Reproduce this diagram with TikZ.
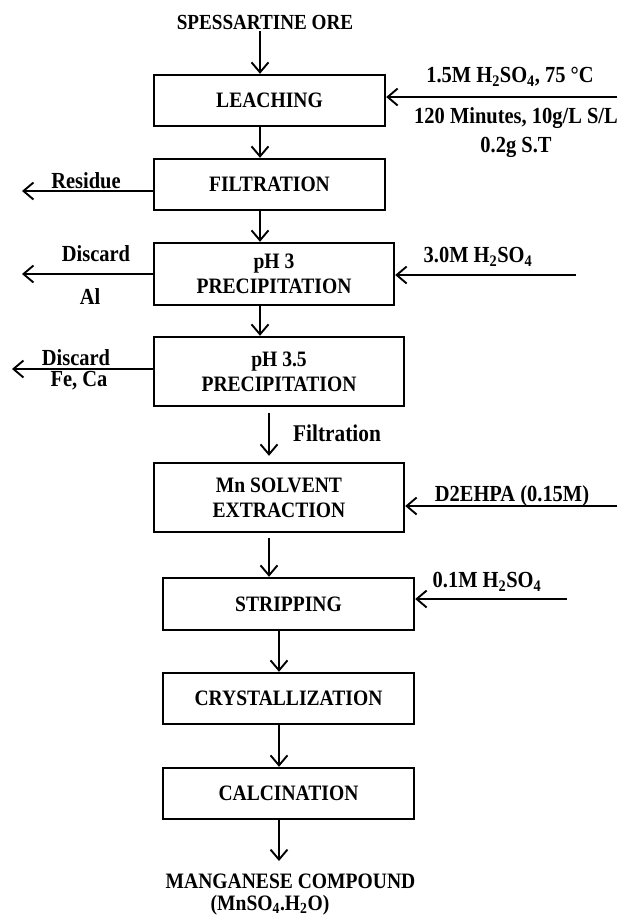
\documentclass[tikz,border=0pt]{standalone}
\usepackage{fontspec}
\setmainfont{Liberation Serif}[FakeStretch=0.89]
\usepackage{tikz}
\usetikzlibrary{arrows.meta, positioning, calc}
\tikzset{
  %% Process box
  proc/.style={
    rectangle, draw=black, line width=2.4pt,
    font=\fontsize{22}{25}\selectfont\bfseries,
    align=center, inner sep=2pt
  },
  %% Arrow
  arr/.style={-{Straight Barb[length=10pt,width=17pt]},
              draw=black, line width=1.9pt},
  %% Side label
  lbl/.style={font=\fontsize{23}{26}\selectfont\bfseries, inner sep=0pt},
}

\begin{document}
\begin{tikzpicture}[x=1pt, y=-1pt]
  \useasboundingbox (0,0) rectangle (617,916);

  %% Main chain
  \node[lbl, font=\fontsize{21.5}{25}\selectfont\bfseries] (ore) at (265,22) {SPESSARTINE ORE};
  \node[proc, minimum width=231pt, minimum height=51pt] (leach) at (269.5,100.5) {LEACHING};
  \node[proc, minimum width=231pt, minimum height=51pt] (filt)  at (269.5,184.5) {FILTRATION};
  \node[proc, minimum width=240pt, minimum height=62pt] (ph3)   at (274,274) {pH 3\\PRECIPITATION};
  \node[proc, minimum width=250pt, minimum height=69pt] (ph35)  at (279,371.5) {pH 3.5\\PRECIPITATION};
  \node[proc, minimum width=250pt, minimum height=69pt] (sx)    at (279,497.5) {Mn SOLVENT\\EXTRACTION};
  \node[proc, minimum width=251pt, minimum height=52pt] (strip) at (288.5,604) {STRIPPING};
  \node[proc, minimum width=251pt, minimum height=51pt] (cryst) at (288.5,698.5) {CRYSTALLIZATION};
  \node[proc, minimum width=251pt, minimum height=51pt] (calc)  at (288.5,793.5) {CALCINATION};
  \node[lbl, font=\fontsize{22}{25}\selectfont\bfseries] (prod)  at (290.5,881) {MANGANESE COMPOUND};
  \node[lbl, font=\fontsize{22}{25}\selectfont\bfseries] (prodf) at (270,905) {(MnSO\textsubscript{4}.H\textsubscript{2}O)};
  \coordinate (endp) at (279,861);

  \draw[arr] ([xshift=-5pt,yshift=-2pt]ore.south) -- ([xshift=-9.5pt]leach.north);
  \draw[arr] ([xshift=-9.5pt]leach.south) -- ([xshift=-9.5pt]filt.north);
  \draw[arr] ([xshift=-9.5pt]filt.south) -- ([xshift=-14pt]ph3.north);
  \draw[arr] ([xshift=-14pt]ph3.south) -- ([xshift=-19pt]ph35.north);
  \draw[arr] ([xshift=-10pt,yshift=-6pt]ph35.south) -- ([xshift=-10pt,yshift=6pt]sx.north);
  \draw[arr] ([xshift=-10pt,yshift=-5pt]sx.south) -- ([xshift=-19.5pt]strip.north);
  \draw[arr] ([xshift=-9.5pt]strip.south) -- ([xshift=-9.5pt]cryst.north);
  \draw[arr] ([xshift=-9.5pt]cryst.south) -- ([xshift=-9.5pt]calc.north);
  \draw[arr] ([xshift=-9.5pt]calc.south) -- (endp);

  %% Inputs (right)
  \coordinate (in1) at (617,97);
  \coordinate (in2) at (576,275);
  \coordinate (in3) at (617,506);
  \coordinate (in4) at (567,599);
  \draw[arr] (in1) -- (in1 -| leach.east);
  \draw[arr] (in2) -- (in2 -| ph3.east);
  \draw[arr] (in3) -- (in3 -| sx.east);
  \draw[arr] (in4) -- (in4 -| strip.east);

  %% Outputs (left)
  \coordinate (out1) at (22,191);
  \coordinate (out2) at (22,274);
  \coordinate (out3) at (12,369);
  \draw[arr] (out1 -| filt.west) -- (out1);
  \draw[arr] (out2 -| ph3.west) -- (out2);
  \draw[arr] (out3 -| ph35.west) -- (out3);

  %% Annotations
  \node[lbl] (cond1) at (510,77) {1.5M H\textsubscript{2}SO\textsubscript{4}, 75 °C};
  \node[lbl, anchor=west] (cond2) at (414,118) {120 Minutes, 10g/L S/L,};
  \node[lbl] (cond3) at (516,147) {0.2g S.T};
  \node[lbl] (res) at (86,181) {Residue};
  \node[lbl] (dis1) at (96,254) {Discard};
  \node[lbl] (al) at (90,297) {Al};
  \node[lbl] (acid) at (478,257) {3.0M H\textsubscript{2}SO\textsubscript{4}};
  \node[lbl] (dis2) at (76,358) {Discard};
  \node[lbl] (feca) at (79,381) {Fe, Ca};
  \node[lbl, font=\fontsize{24}{27}\selectfont\bfseries] (filtr) at (337,433) {Filtration};
  \node[lbl] (ext) at (512,496) {D2EHPA (0.15M)};
  \node[lbl] (strp) at (487,582) {0.1M H\textsubscript{2}SO\textsubscript{4}};
\end{tikzpicture}
\end{document}
